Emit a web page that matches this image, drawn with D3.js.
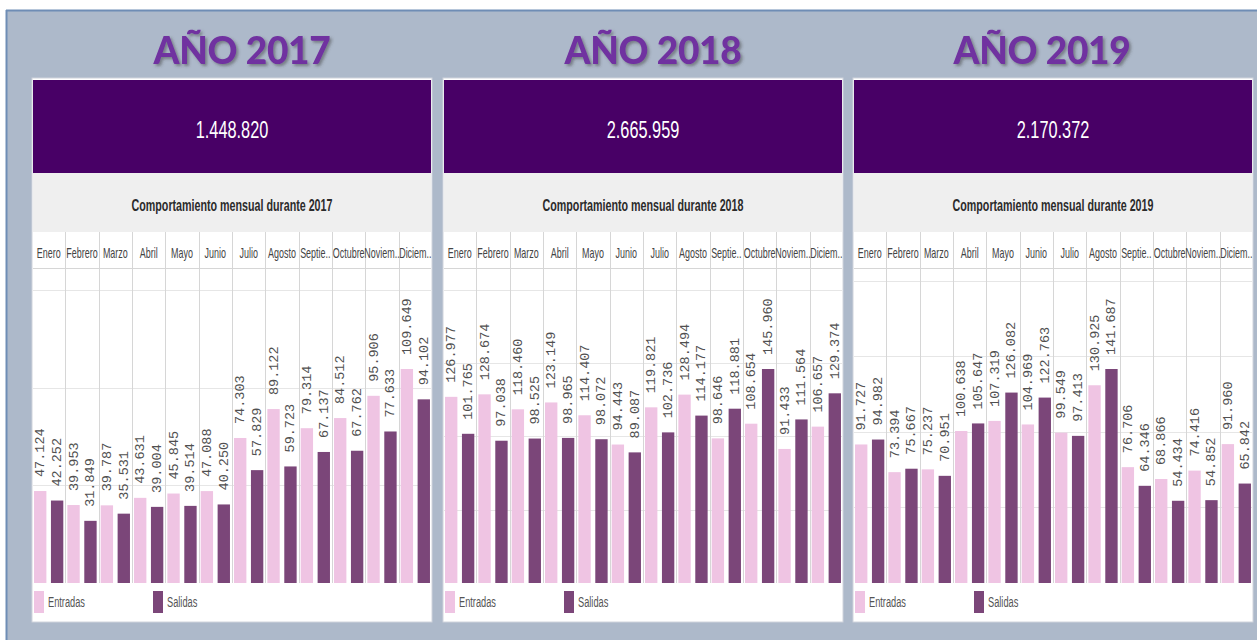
<!DOCTYPE html>
<html>
<head>
<meta charset="utf-8">
<script src="https://cdn.jsdelivr.net/npm/d3@7"></script>
<style>
  html, body { margin: 0; padding: 0; background: #ffffff; }
  svg { display: block; }
  .narrow { font-family: "Liberation Sans", Arial, sans-serif; }
</style>
</head>
<body>
<svg id="chart" width="1257" height="640"></svg>
<script>
// ---------- data ----------
const years = ["2017", "2018", "2019"];
const months = ["Enero", "Febrero", "Marzo", "Abril", "Mayo", "Junio", "Julio", "Agosto", "Septie..", "Octubre", "Noviem..", "Diciem.."];
const seriesNames = ["Entradas", "Salidas"];

const entradas2017 = [47124, 39953, 39787, 43631, 45845, 47088, 74303, 89122, 79314, 84512, 95906, 109649];
const salidas2017  = [42252, 31849, 35531, 39004, 39514, 40250, 57829, 59723, 67137, 67762, 77633, 94102];
const entradas2018 = [126977, 128674, 118460, 123149, 114407, 94443, 119821, 128494, 98646, 108654, 91433, 106657];
const salidas2018  = [101765, 97038, 98525, 98965, 98072, 89087, 102736, 114177, 118881, 145960, 111564, 129374];
const entradas2019 = [91727, 73394, 75237, 100638, 107319, 104969, 99549, 130925, 76706, 68866, 74416, 91960];
const salidas2019  = [94982, 75667, 70951, 105647, 126082, 122763, 97413, 141687, 64346, 54434, 54852, 65842];

const gridStep = 50000;

const panelsData = [
  { year: years[0], entradas: entradas2017, salidas: salidas2017 },
  { year: years[1], entradas: entradas2018, salidas: salidas2018 },
  { year: years[2], entradas: entradas2019, salidas: salidas2019 }
];

// ---------- styles ----------
const colors = { Entradas: "#efc4e3", Salidas: "#7b4679" };
const esLocale = d3.formatLocale({ decimal: ",", thousands: ".", grouping: [3], currency: ["", " €"] });
const fmt = esLocale.format(",d");

const svg = d3.select("#chart");

// condensed text helper (no narrow font installed): horizontal squeeze
function narrow(sel, x, y, sx) {
  return sel.attr("class", "narrow")
    .attr("x", 0).attr("y", 0)
    .attr("transform", typeof x === "function"
      ? (d => `translate(${x(d)},${y}) scale(${sx},1)`)
      : `translate(${x},${y}) scale(${sx},1)`);
}

// drop shadow for year titles
const defs = svg.append("defs");
const f = defs.append("filter").attr("id", "shadow").attr("x", "-10%").attr("y", "-20%").attr("width", "130%").attr("height", "160%");
f.append("feDropShadow").attr("dx", 2).attr("dy", 2).attr("stdDeviation", 1.4)
  .attr("flood-color", "#3a3a3a").attr("flood-opacity", 0.5);

// frame
svg.append("rect").attr("x", 0).attr("y", 0).attr("width", 1257).attr("height", 640).attr("fill", "#ffffff");
svg.append("rect").attr("x", 6).attr("y", 10).attr("width", 1251).attr("height", 630).attr("fill", "#adb9ca");
svg.append("line").attr("x1", 6).attr("x2", 1257).attr("y1", 10.5).attr("y2", 10.5).attr("stroke", "#6f8db5").attr("stroke-width", 2);
svg.append("line").attr("x1", 6.5).attr("x2", 6.5).attr("y1", 10).attr("y2", 640).attr("stroke", "#6f8db5").attr("stroke-width", 2);

const panelW = 400;
const panelXs = [32, 443, 853];
const titleCx = [210, 210, 189];
const baseY = 583, maxBarTop = 369, plotTop = 270;
const headerTop = 80, headerBottom = 173, titleBottom = 232, monthRowBottom = 268;

panelsData.forEach((p, i) => {
  const x0 = panelXs[i];
  const g = svg.append("g").attr("transform", `translate(${x0},0)`);
  const cx = panelW / 2;

  // year title
  g.append("text")
    .attr("x", titleCx[i]).attr("y", 64)
    .attr("text-anchor", "middle")
    .attr("font-family", "Lato, 'Open Sans', sans-serif")
    .attr("font-weight", 900)
    .attr("font-size", 37)
    .attr("letter-spacing", -0.3)
    .attr("fill", "#7030a0")
    .attr("filter", "url(#shadow)")
    .text("AÑO " + p.year);

  // panel background
  g.append("rect").attr("x", 0).attr("y", 78).attr("width", panelW).attr("height", 544)
    .attr("fill", "#ffffff").attr("stroke", "#d0d4dc").attr("stroke-width", 1);

  // header with total
  const total = d3.sum(p.entradas) + d3.sum(p.salidas);
  g.append("rect").attr("x", 1).attr("y", headerTop).attr("width", panelW - 2).attr("height", headerBottom - headerTop).attr("fill", "#480066");
  narrow(g.append("text"), cx, 138, 0.68)
    .attr("text-anchor", "middle")
    .attr("font-size", 24)
    .attr("fill", "#ffffff")
    .text(fmt(total));

  // subtitle band
  g.append("rect").attr("x", 1).attr("y", headerBottom).attr("width", panelW - 2).attr("height", titleBottom - headerBottom).attr("fill", "#efefef");
  narrow(g.append("text"), cx, 211, 0.63)
    .attr("text-anchor", "middle")
    .attr("font-size", 17)
    .attr("font-weight", "bold")
    .attr("fill", "#2b2b2b")
    .text("Comportamiento mensual durante " + p.year);

  // scales
  const x = d3.scaleBand().domain(months).range([0, panelW]).paddingInner(0).paddingOuter(0);
  const xs = d3.scaleBand().domain(seriesNames).range([0, x.bandwidth()]).paddingInner(0.27).paddingOuter(0.12);
  const maxV = d3.max([...p.entradas, ...p.salidas]);
  const y = d3.scaleLinear().domain([0, maxV]).range([baseY, maxBarTop]);

  // horizontal gridlines
  const gridVals = d3.range(gridStep, maxV * 3, gridStep).filter(v => y(v) >= plotTop);
  g.selectAll(".grid").data(gridVals).enter().append("line")
    .attr("x1", 1).attr("x2", panelW - 1)
    .attr("y1", d => Math.round(y(d)) + 0.5).attr("y2", d => Math.round(y(d)) + 0.5)
    .attr("stroke", "#e6e6e6").attr("stroke-width", 1);

  // month row line
  g.append("line").attr("x1", 1).attr("x2", panelW - 1).attr("y1", monthRowBottom + 0.5).attr("y2", monthRowBottom + 0.5)
    .attr("stroke", "#d6d6d6");

  // vertical separators
  g.selectAll(".sep").data(months.slice(1)).enter().append("line")
    .attr("x1", d => Math.round(x(d)) + 0.5).attr("x2", d => Math.round(x(d)) + 0.5)
    .attr("y1", titleBottom).attr("y2", baseY)
    .attr("stroke", "#d6d6d6");

  // month labels
  narrow(g.selectAll(".month").data(months).enter().append("text"), d => x(d) + x.bandwidth() / 2, 258, 0.64)
    .attr("text-anchor", "middle")
    .attr("font-size", 14)
    .attr("fill", "#444444")
    .text(d => d);

  // bars
  const rows = [];
  months.forEach((m, j) => {
    rows.push({ m, s: "Entradas", v: p.entradas[j] });
    rows.push({ m, s: "Salidas", v: p.salidas[j] });
  });
  g.selectAll(".bar").data(rows).enter().append("rect")
    .attr("x", d => x(d.m) + xs(d.s))
    .attr("y", d => y(d.v))
    .attr("width", xs.bandwidth())
    .attr("height", d => baseY - y(d.v))
    .attr("fill", d => colors[d.s]);

  // value labels
  g.selectAll(".lbl").data(rows).enter().append("text")
    .attr("transform", d => `translate(${x(d.m) + xs(d.s) + xs.bandwidth() / 2 + 4},${y(d.v) - 14}) rotate(-90)`)
    .attr("font-family", "'Liberation Mono', 'DejaVu Sans Mono', monospace")
    .attr("font-size", 13.5)
    .attr("fill", "#505050")
    .text(d => fmt(d.v));

  // legend
  const legX = [2, 121];
  seriesNames.forEach((s, k) => {
    g.append("rect").attr("x", legX[k]).attr("y", 591).attr("width", 10).attr("height", 22).attr("fill", colors[s]);
    narrow(g.append("text"), legX[k] + 14, 607, 0.66)
      .attr("font-size", 14)
      .attr("fill", "#555555")
      .text(s);
  });
});
</script>
</body>
</html>
